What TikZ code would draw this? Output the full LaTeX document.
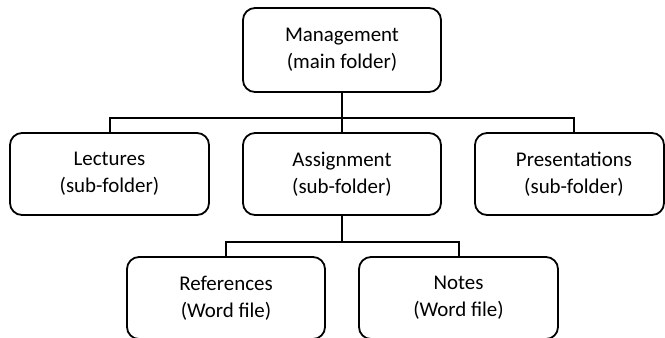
\documentclass[tikz,border=0pt]{standalone}
\usepackage{fontspec}
\setmainfont{Carlito}
\usepackage{tikz}

\begin{document}
\begin{tikzpicture}[x=1bp,y=1bp]
\tikzstyle{folder}=[draw=black,line width=1.8bp,rounded corners=12bp,align=center,inner sep=0pt,minimum width=198bp,minimum height=82bp,font=\fontsize{21}{27.5}\selectfont]
\tikzstyle{link}=[draw=black,line width=2bp]
\useasboundingbox (0,0) rectangle (665,-337);
\node [folder,minimum height=84bp] (mgmt) at (342,-50) {Management\\(main folder)};
\node [folder,minimum width=199bp] (lect) at (109.5,-174) {Lectures\\(sub-folder)};
\node [folder] (assign) at (342,-174) {Assignment\\(sub-folder)};
\node [folder,minimum width=189bp] (pres) at (569.5,-174) {\hspace*{9bp}Presentations\\\hspace*{9bp}(sub-folder)};
\node [folder] (refs) at (226,-298) {References\\(Word file)};
\node [folder,minimum width=199bp] (notes) at (458.5,-298) {Notes\\(Word file)};
\coordinate (bar1) at (342,-118);
\coordinate (bar2) at (342,-242);
\draw [link] (mgmt.south) -- (bar1);
\draw [link] (lect.north) |- (bar1) -| ([xshift=4.5bp]pres.north);
\draw [link] (bar1) -- (assign.north);
\draw [link] (assign.south) -- (bar2);
\draw [link] (refs.north) |- (bar2) -| (notes.north);
\end{tikzpicture}
\end{document}
